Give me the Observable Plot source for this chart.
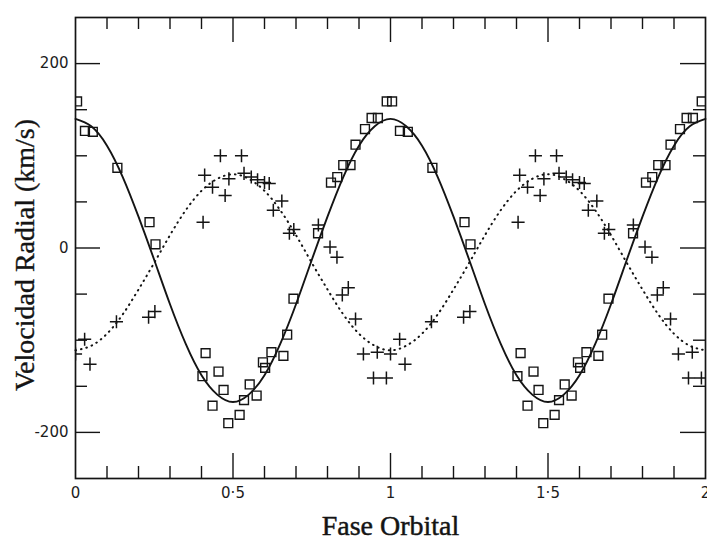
<!DOCTYPE html>
<html>
<head>
<meta charset="utf-8">
<script src="https://cdn.jsdelivr.net/npm/d3@7"></script>
<script src="https://cdn.jsdelivr.net/npm/@observablehq/plot@0.6"></script>
<style>
  body { margin: 0; background: #fff; color: #1c1c1c; }
</style>
</head>
<body>
<div id="chart"></div>
<script>
// Radial velocity curve of a double-lined binary, folded on the orbital period
// and shown over two cycles (phase 0–2).

// Primary star (squares): orbital phase and radial velocity (km/s)
const primaryPhase = [0.005, 0.030, 0.055, 0.133, 0.235, 0.254, 0.403, 0.413, 0.435, 0.454,
  0.470, 0.485, 0.521, 0.535, 0.553, 0.575, 0.595, 0.602, 0.622, 0.660,
  0.672, 0.692, 0.770, 0.811, 0.831, 0.850, 0.873, 0.889, 0.919, 0.940,
  0.960, 0.988];
const primaryVel = [159, 127, 126, 87, 28, 4, -139, -114, -171, -134,
  -154, -190, -181, -165, -148, -160, -124, -130, -113, -117,
  -94, -55, 16, 71, 77, 90, 90, 112, 129, 141,
  141, 159];

// Secondary star (crosses)
const secondaryPhase = [0.000, 0.029, 0.046, 0.130, 0.232, 0.252, 0.405, 0.410, 0.435, 0.460,
  0.475, 0.487, 0.527, 0.535, 0.558, 0.578, 0.600, 0.615, 0.628, 0.655,
  0.679, 0.693, 0.771, 0.808, 0.830, 0.847, 0.866, 0.889, 0.914, 0.946,
  0.958, 0.987];
const secondaryVel = [-115, -99, -126, -80, -75, -69, 28, 79, 66, 100,
  57, 75, 100, 81, 77, 74, 71, 70, 41, 51,
  16, 20, 25, 1, -10, -51, -43, -77, -115, -141,
  -113, -141];

// Orbital solution curves, sampled every 0.05 in phase over one cycle
const fitPhase = [0, 0.05, 0.1, 0.15, 0.2, 0.25, 0.3, 0.35, 0.4, 0.45, 0.5,
  0.55, 0.6, 0.65, 0.7, 0.75, 0.8, 0.85, 0.9, 0.95, 1];
const primaryFit = [140, 132, 111, 77, 34, -13, -61, -104, -138, -159, -167,
  -159, -138, -104, -61, -13, 34, 77, 111, 132, 140];
const secondaryFit = [-111, -106, -93, -72, -45, -16, 14, 41, 62, 75, 80,
  75, 62, 41, 14, -16, -45, -72, -93, -106, -111];

// Axis extents, ticks and labels
const xDomain = [0, 2];
const yDomain = [-250, 250];
const xTickValues = [0, 0.5, 1, 1.5, 2];
const xTickLabels = ["0", "0·5", "1", "1·5", "2"];
const xMajorTicks = [0.5, 1, 1.5];
const xMinorTicks = [0.1, 0.2, 0.3, 0.4, 0.6, 0.7, 0.8, 0.9,
  1.1, 1.2, 1.3, 1.4, 1.6, 1.7, 1.8, 1.9];
const yTickValues = [-200, 0, 200];
const yTickLabels = ["-200", "0", "200"];
const yMinorTicks = [-150, -100, -50, 50, 100, 150];

const xTitle = "Fase Orbital";
const yTitle = "Velocidad Radial (km/s)";

// Each observation is plotted in both cycles shown
const cycles = [0, 1];
const fold = (phase, vel) =>
  cycles.flatMap(c => phase.map((p, i) => ({phase: p + c, v: vel[i]})));
const foldCurve = (vel) =>
  cycles.flatMap(c => fitPhase
    .map((p, i) => ({phase: p + c, v: vel[i]}))
    .filter((d, i) => !(c > 0 && i === 0)));

const primaryPts = fold(primaryPhase, primaryVel);
const secondaryPts = fold(secondaryPhase, secondaryVel);
const primaryCurve = foldCurve(primaryFit);
const secondaryCurve = foldCurve(secondaryFit);

const W = 707, H = 538;
const mTop = 17, mRight = 2, mBottom = 60, mLeft = 75;
const frameH = H - mTop - mBottom;
const frameW = W - mLeft - mRight;
const ink = "#141414";
const minorLen = 12, majorLen = 25;
const tickFont = "DejaVu Sans, Liberation Sans, sans-serif";
const titleFont = "Liberation Serif, DejaVu Serif, serif";

// inward tick marks on all four sides of the frame
const tickStyle = {stroke: ink, strokeWidth: 1.4};
const sideTicks = [
  Plot.tickX(xMinorTicks, {x: d => d, ...tickStyle, insetTop: frameH - minorLen}),
  Plot.tickX(xMajorTicks, {x: d => d, ...tickStyle, insetTop: frameH - majorLen}),
  Plot.tickX(xMinorTicks, {x: d => d, ...tickStyle, insetBottom: frameH - minorLen}),
  Plot.tickX(xMajorTicks, {x: d => d, ...tickStyle, insetBottom: frameH - majorLen}),
  Plot.tickY(yMinorTicks, {y: d => d, ...tickStyle, insetRight: frameW - minorLen}),
  Plot.tickY(yTickValues, {y: d => d, ...tickStyle, insetRight: frameW - majorLen}),
  Plot.tickY(yMinorTicks, {y: d => d, ...tickStyle, insetLeft: frameW - minorLen}),
  Plot.tickY(yTickValues, {y: d => d, ...tickStyle, insetLeft: frameW - majorLen})
];

const chart = Plot.plot({
  width: W,
  height: H,
  marginTop: mTop,
  marginRight: mRight,
  marginBottom: mBottom,
  marginLeft: mLeft,
  x: {domain: xDomain},
  y: {domain: yDomain},
  marks: [
    // fitted curves
    Plot.line(primaryCurve, {x: "phase", y: "v", curve: "natural", stroke: ink, strokeWidth: 1.9}),
    Plot.line(secondaryCurve, {x: "phase", y: "v", curve: "natural", stroke: ink,
      strokeWidth: 2, strokeDasharray: "0.6 5", strokeLinecap: "round"}),
    // observations
    Plot.dot(primaryPts, {x: "phase", y: "v", symbol: "square", r: 5, fill: "none",
      stroke: ink, strokeWidth: 1.4, clip: true}),
    Plot.dot(secondaryPts, {x: "phase", y: "v", symbol: "plus", r: 4.3,
      stroke: ink, strokeWidth: 1.5, clip: true}),
    Plot.frame({stroke: ink, strokeWidth: 1.7}),
    // tick labels
    Plot.axisX(xTickValues, {tickSize: 0, tickPadding: 9, label: null, fontSize: 15,
      fontFamily: tickFont, tickFormat: d => xTickLabels[xTickValues.indexOf(d)]}),
    Plot.axisY(yTickValues, {tickSize: 0, tickPadding: 7, label: null, fontSize: 15,
      fontFamily: tickFont, tickFormat: d => yTickLabels[yTickValues.indexOf(d)]}),
    // axis titles
    Plot.text([xTitle], {text: d => d, frameAnchor: "bottom", dy: 48, lineAnchor: "middle",
      fontSize: 28, fontFamily: titleFont, fill: ink, stroke: ink, strokeWidth: 0.45}),
    Plot.text([yTitle], {text: d => d, frameAnchor: "left", textAnchor: "middle", rotate: -90,
      dx: -50, dy: 7, lineAnchor: "middle", fontSize: 28, fontFamily: titleFont,
      fill: ink, stroke: ink, strokeWidth: 0.35}),
    ...sideTicks
  ]
});

document.getElementById("chart").append(chart);
</script>
</body>
</html>
